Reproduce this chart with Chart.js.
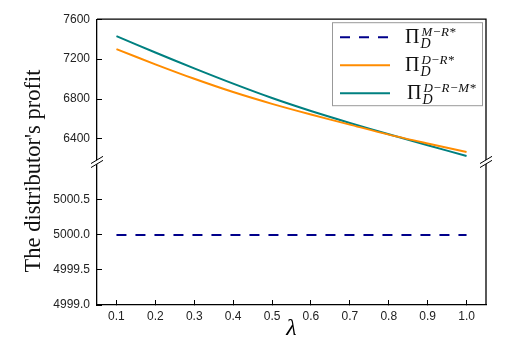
<!DOCTYPE html>
<html>
<head>
<meta charset="utf-8">
<title>Distributor profit vs lambda</title>
<script src="https://cdn.jsdelivr.net/npm/chart.js@4.4.1/dist/chart.umd.min.js"></script>
<style>
  html, body { margin: 0; padding: 0; background: #fff; }
  #wrap { position: relative; width: 511px; height: 344px; }
</style>
</head>
<body>
<div id="wrap"><canvas id="profitChart" width="511" height="344"></canvas></div>
<script>
// lambda values on the x axis
const lambdas = [0.1, 0.2, 0.3, 0.4, 0.5, 0.6, 0.7, 0.8, 0.9, 1.0];

// distributor profit under each structure
const profitMR  = [5000, 5000, 5000, 5000, 5000, 5000, 5000, 5000, 5000, 5000];
const profitDR  = [7300, 7148, 7003, 6870, 6752, 6645, 6544, 6444, 6355, 6270];
const profitDRM = [7430, 7266, 7107, 6954, 6810, 6680, 6561, 6448, 6337, 6230];

// tick labels for the two halves of the broken y axis
const upperTicks = [6400, 6800, 7200, 7600];
const lowerTicks = [4999.0, 4999.5, 5000.0, 5000.5];

// superscripts of the legend labels (Π_D^...)
const legendSupers = ['M\u2212R*', 'D\u2212R*', 'D\u2212R\u2212M*'];

const SANS = '"Liberation Sans", Arial, sans-serif';
const SERIF = '"Liberation Serif", "Times New Roman", serif';

const pts = arr => lambdas.map((x, i) => ({ x, y: arr[i] }));

// frame, axis-break marks, rotated y title and math legend
const overlay = {
  id: 'overlay',
  afterDraw(chart) {
    const ctx = chart.ctx;
    const a = chart.chartArea;
    const yb = chart.scales.yHigh.bottom;

    ctx.save();
    // top and right sides of the box
    ctx.strokeStyle = '#000';
    ctx.lineWidth = 1.3;
    ctx.beginPath();
    ctx.moveTo(a.left, a.top);
    ctx.lineTo(a.right, a.top);
    ctx.lineTo(a.right, a.bottom);
    ctx.stroke();

    // "//" break marks on both vertical sides
    [a.left, a.right].forEach(x => {
      ctx.fillStyle = '#fff';
      ctx.beginPath();
      ctx.moveTo(x - 5, yb + 1);
      ctx.lineTo(x + 5, yb - 5);
      ctx.lineTo(x + 5, yb - 1);
      ctx.lineTo(x - 5, yb + 5);
      ctx.closePath();
      ctx.fill();
      ctx.strokeStyle = '#000';
      ctx.lineWidth = 1;
      ctx.beginPath();
      ctx.moveTo(x - 6, yb + 1.6);
      ctx.lineTo(x + 6, yb - 5.6);
      ctx.moveTo(x - 6, yb + 5.6);
      ctx.lineTo(x + 6, yb - 1.6);
      ctx.stroke();
    });

    // y axis title
    ctx.save();
    ctx.translate(40, 171);
    ctx.rotate(-Math.PI / 2);
    ctx.fillStyle = '#111';
    ctx.font = '22.5px ' + SERIF;
    ctx.textAlign = 'center';
    ctx.textBaseline = 'alphabetic';
    ctx.fillText("The distributor's profit", 0, 0);
    ctx.restore();

    // legend
    const lx = a.right - 154, ly = a.top + 3, lw = 150, lh = 83;
    ctx.fillStyle = '#fff';
    ctx.fillRect(lx, ly, lw, lh);
    ctx.strokeStyle = '#999';
    ctx.lineWidth = 1;
    ctx.strokeRect(lx + 0.5, ly + 0.5, lw, lh);

    chart.data.datasets.forEach((ds, i) => {
      const cy = ly + 15 + i * 28;
      ctx.strokeStyle = ds.borderColor;
      ctx.lineWidth = ds.borderWidth;
      ctx.setLineDash(ds.borderDash || []);
      ctx.beginPath();
      ctx.moveTo(lx + 8, cy);
      ctx.lineTo(lx + 58, cy);
      ctx.stroke();
      ctx.setLineDash([]);

      const px = lx + 73 + (i === 2 ? 2 : 0);
      ctx.fillStyle = '#111';
      ctx.textAlign = 'left';
      ctx.textBaseline = 'alphabetic';
      ctx.font = '20px ' + SERIF;
      ctx.fillText('\u03A0', px, cy + 5.5);
      const pw = ctx.measureText('\u03A0').width;
      ctx.font = 'italic 14px ' + SERIF;
      ctx.fillText('D', px + pw + 1, cy + 11);
      ctx.font = 'italic 13px ' + SERIF;
      ctx.fillText(legendSupers[i], px + pw + 2, cy - 1);
    });
    ctx.restore();
  }
};

const tickFont = { family: SANS, size: 12 };

new Chart(document.getElementById('profitChart'), {
  type: 'line',
  data: {
    datasets: [
      {
        label: 'M-R',
        data: pts(profitMR),
        yAxisID: 'yLow',
        borderColor: '#00008B',
        borderWidth: 2,
        borderDash: [10, 9],
        pointRadius: 0
      },
      {
        label: 'D-R',
        data: pts(profitDR),
        yAxisID: 'yHigh',
        borderColor: '#FF8C00',
        borderWidth: 2,
        tension: 0.3,
        pointRadius: 0
      },
      {
        label: 'D-R-M',
        data: pts(profitDRM),
        yAxisID: 'yHigh',
        borderColor: '#008080',
        borderWidth: 2,
        tension: 0.3,
        pointRadius: 0
      }
    ]
  },
  options: {
    responsive: false,
    animation: false,
    layout: { padding: { left: 40, top: 15, right: 25, bottom: 0 } },
    plugins: { legend: { display: false }, tooltip: { enabled: false } },
    scales: {
      x: {
        type: 'linear',
        min: 0.05,
        max: 1.05,
        afterBuildTicks: s => { s.ticks = lambdas.map(v => ({ value: v })); },
        afterFit: s => { s.height = 39; },
        ticks: {
          callback: v => v.toFixed(1),
          font: tickFont, color: '#222', padding: 9,
          autoSkip: false, maxRotation: 0
        },
        grid: { drawOnChartArea: false, tickLength: -5, color: '#000' },
        border: { color: '#000', width: 1.3 },
        title: {
          display: true, text: '\u03BB', color: '#000',
          font: { family: SERIF, style: 'italic', size: 24 },
          padding: { top: 0, bottom: 1 }
        }
      },
      // stacked halves: the later-listed scale is laid out on top
      yLow: {
        type: 'linear',
        position: 'left',
        stack: 'profit',
        stackWeight: 145,
        min: 4999,
        max: 5001.04,
        afterBuildTicks: s => { s.ticks = lowerTicks.map(v => ({ value: v })); },
        afterFit: s => { s.width = 57; },
        ticks: { font: tickFont, color: '#222', padding: 12, callback: v => v.toFixed(1) },
        grid: { drawOnChartArea: false, tickLength: -5, color: '#000' },
        border: { color: '#000', width: 1.3 }
      },
      yHigh: {
        type: 'linear',
        position: 'left',
        stack: 'profit',
        stackWeight: 144.7,
        min: 6170,
        max: 7600,
        afterBuildTicks: s => { s.ticks = upperTicks.map(v => ({ value: v })); },
        afterFit: s => { s.width = 57; },
        ticks: { font: tickFont, color: '#222', padding: 12, callback: v => String(v) },
        grid: { drawOnChartArea: false, tickLength: -5, color: '#000' },
        border: { color: '#000', width: 1.3 }
      }
    }
  },
  plugins: [overlay]
});
</script>
</body>
</html>
